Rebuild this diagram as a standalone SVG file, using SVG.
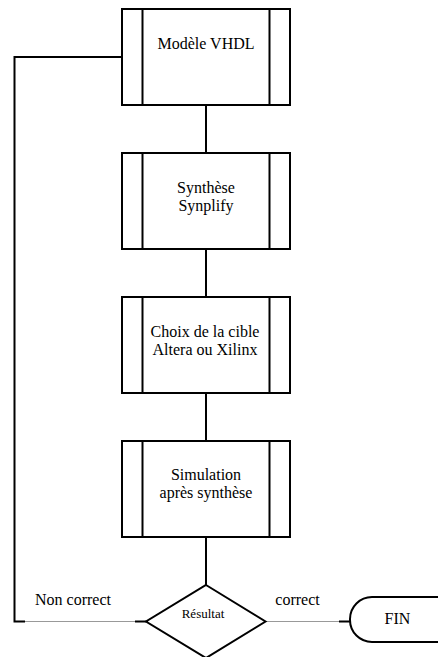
<svg xmlns="http://www.w3.org/2000/svg" width="438" height="657" viewBox="0 0 438 657">
<style>
.box{fill:#fff;stroke:#000;stroke-width:2}
.in{stroke:#000;stroke-width:2}
.t{font-family:"Liberation Serif","Times New Roman",serif;font-size:16px;fill:#000;text-anchor:middle}
.s{font-size:13px}
.c{fill:none;stroke:#000;stroke-width:2}
.g{fill:none;stroke:#999;stroke-width:1}
</style>
<rect width="438" height="657" fill="#fff"/>
<g id="connectors">
<path class="c" d="M206 105V153M206 249V297M206 393V441M206 537V585"/>
<path class="c" d="M122 57H14.5V621.5H25"/>
<path class="g" d="M25 621.5H135M266 621.5H339"/>
<path class="c" d="M135 621.5H146M339 621.5H350"/>
</g>
<g id="n1">
<rect class="box" x="122" y="9" width="168" height="96"/>
<path class="in" d="M142.5 9V105M269.5 9V105"/>
<text class="t" x="206" y="49">Modèle VHDL</text>
</g>
<g id="n2">
<rect class="box" x="122" y="153" width="168" height="96"/>
<path class="in" d="M142.5 153V249M269.5 153V249"/>
<text class="t" x="206" y="193">Synthèse</text>
<text class="t" x="206" y="211">Synplify</text>
</g>
<g id="n3">
<rect class="box" x="122" y="297" width="168" height="96"/>
<path class="in" d="M142.5 297V393M269.5 297V393"/>
<text class="t" x="205" y="337">Choix de la cible</text>
<text class="t" x="205" y="355">Altera ou Xilinx</text>
</g>
<g id="n4">
<rect class="box" x="122" y="441" width="168" height="96"/>
<path class="in" d="M142.5 441V537M269.5 441V537"/>
<text class="t" x="206" y="479.5">Simulation</text>
<text class="t" x="206" y="498">après synthèse</text>
</g>
<g id="decision">
<polygon class="box" points="206,585 265.5,621.5 206,658 146,621.5"/>
<text class="t s" x="203" y="617.5">Résultat</text>
</g>
<g id="labels">
<text class="t" x="73" y="605">Non correct</text>
<text class="t" x="297.5" y="605">correct</text>
</g>
<g id="fin">
<rect class="box" x="350" y="597" width="130" height="45" rx="22" ry="22"/>
<text class="t" x="397.5" y="623.5">FIN</text>
</g>
</svg>
